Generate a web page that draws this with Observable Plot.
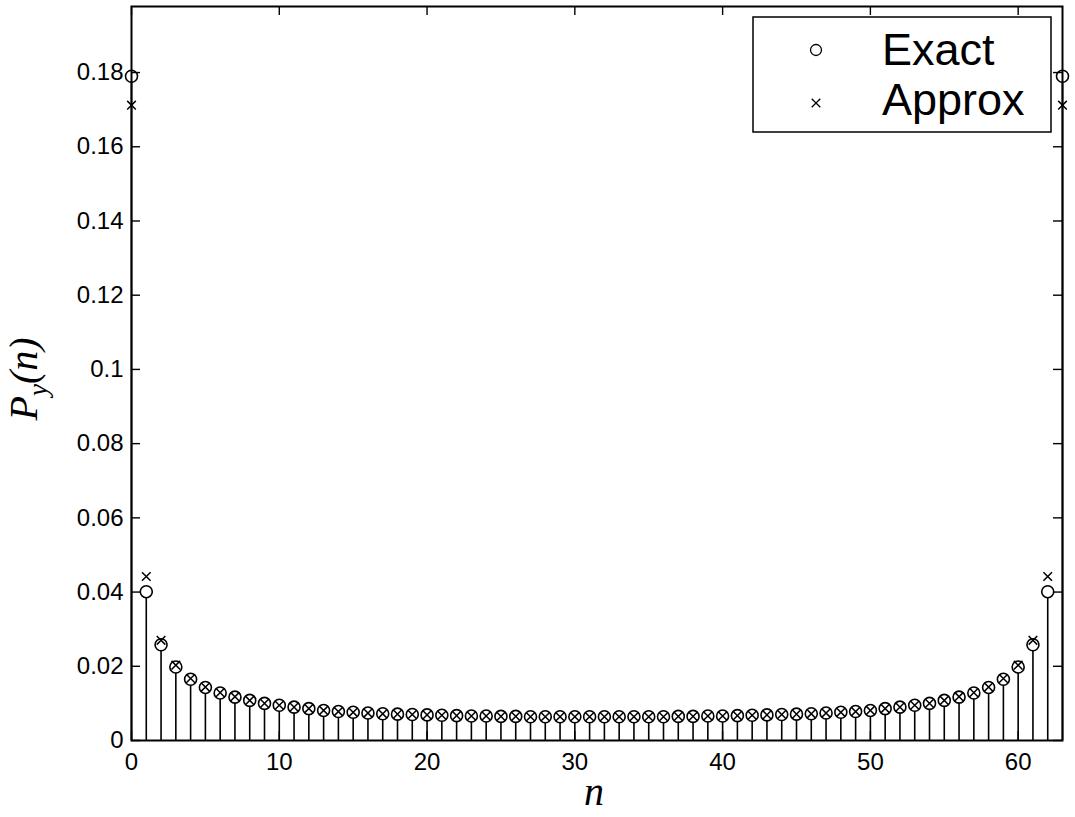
<!DOCTYPE html>
<html>
<head>
<meta charset="utf-8">
<script src="https://cdn.jsdelivr.net/npm/d3@7"></script>
<script src="https://cdn.jsdelivr.net/npm/@observablehq/plot@0.6"></script>
<style>
  html, body { margin: 0; padding: 0; background: #fff; }
  #chart { position: relative; width: 1075px; height: 817px; }
</style>
</head>
<body>
<div id="chart"></div>
<script>
// ---- data ----
const nValues = d3.range(64);
const exactValues = [
  0.179, 0.0401, 0.0258, 0.0198, 0.0165, 0.0143, 0.0128, 0.0117, 0.0108, 0.0100,
  0.0095, 0.0090, 0.0086, 0.0081, 0.0078, 0.0076, 0.0074, 0.0072, 0.0071, 0.0070,
  0.0069, 0.0068, 0.0067, 0.0066, 0.0066, 0.0065, 0.0065, 0.0064, 0.0064, 0.0064,
  0.0064, 0.0064, 0.0064, 0.0064, 0.0064, 0.0064, 0.0064, 0.0065, 0.0065, 0.0066,
  0.0066, 0.0067, 0.0068, 0.0069, 0.0070, 0.0071, 0.0072, 0.0074, 0.0076, 0.0078,
  0.0081, 0.0086, 0.0090, 0.0095, 0.0100, 0.0108, 0.0117, 0.0128, 0.0143, 0.0165,
  0.0198, 0.0258, 0.0401, 0.179
];
const approxValues = [
  0.1712, 0.0442, 0.0270, 0.0203, 0.0167, 0.0144, 0.0129, 0.0118, 0.0108, 0.0100,
  0.0095, 0.0090, 0.0086, 0.0081, 0.0078, 0.0076, 0.0074, 0.0072, 0.0071, 0.0070,
  0.0069, 0.0068, 0.0067, 0.0066, 0.0066, 0.0065, 0.0065, 0.0064, 0.0064, 0.0064,
  0.0064, 0.0064, 0.0064, 0.0064, 0.0064, 0.0064, 0.0064, 0.0065, 0.0065, 0.0066,
  0.0066, 0.0067, 0.0068, 0.0069, 0.0070, 0.0071, 0.0072, 0.0074, 0.0076, 0.0078,
  0.0081, 0.0086, 0.0090, 0.0095, 0.0100, 0.0108, 0.0118, 0.0129, 0.0144, 0.0167,
  0.0203, 0.0270, 0.0442, 0.1712
];
const xTicks = [0, 10, 20, 30, 40, 50, 60];
const xTickLabels = ["0", "10", "20", "30", "40", "50", "60"];
const yTicks = [0, 0.02, 0.04, 0.06, 0.08, 0.1, 0.12, 0.14, 0.16, 0.18];
const yTickLabels = ["0", "0.02", "0.04", "0.06", "0.08", "0.1", "0.12", "0.14", "0.16", "0.18"];
const seriesNames = ["Exact", "Approx"];

const data = nValues.map((n, i) => ({ n, exact: exactValues[i], approx: approxValues[i] }));

// ---- layout ----
const W = 1075, H = 817;
const mL = 131, mR = 13, mT = 6, mB = 77;
const innerW = W - mL - mR, innerH = H - mT - mB;
const tickLen = 9;

const chart = Plot.plot({
  width: W, height: H,
  marginLeft: mL, marginRight: mR, marginTop: mT, marginBottom: mB,
  style: { fontFamily: "'Liberation Sans', Arial, Helvetica, sans-serif", fontSize: "24px", color: "black", background: "white" },
  x: { domain: [0, 63] },
  y: { domain: [0, 0.1978] },
  marks: [
    Plot.ruleX(data, { x: "n", y1: 0, y2: "exact", stroke: "black", strokeWidth: 1.6 }),
    Plot.dot(data, { x: "n", y: "exact", r: 6, stroke: "black", fill: "white", strokeWidth: 1.6 }),
    Plot.dot(data, { x: "n", y: "approx", symbol: "times", r: 4, stroke: "black", strokeWidth: 1.5 }),
    // tick labels
    Plot.axisX({ anchor: "bottom", ticks: xTicks, tickSize: 0, tickPadding: 12, tickFormat: d => xTickLabels[xTicks.indexOf(d)], label: null }),
    Plot.axisY({ anchor: "left", ticks: yTicks, tickSize: 0, tickPadding: 8, tickFormat: d => yTickLabels[yTicks.indexOf(d)], label: null }),
    // inward ticks on all four sides
    Plot.tickX(xTicks, { x: d => d, insetTop: innerH - tickLen, stroke: "black", strokeWidth: 1.4 }),
    Plot.tickX(xTicks, { x: d => d, insetBottom: innerH - tickLen, stroke: "black", strokeWidth: 1.4 }),
    Plot.tickY(yTicks, { y: d => d, insetRight: innerW - tickLen, stroke: "black", strokeWidth: 1.4 }),
    Plot.tickY(yTicks, { y: d => d, insetLeft: innerW - tickLen, stroke: "black", strokeWidth: 1.4 }),
    Plot.frame({ stroke: "black", strokeWidth: 2 })
  ]
});

document.getElementById("chart").appendChild(chart);
const svg = d3.select(chart);

// y-axis label P_y(n)
const yl = svg.append("text")
  .attr("transform", "translate(37,379) rotate(-90)")
  .attr("text-anchor", "middle")
  .style("font-family", "'Liberation Serif', 'Times New Roman', serif")
  .style("font-style", "italic")
  .style("font-size", "40px")
  .attr("fill", "black");
yl.append("tspan").text("P");
yl.append("tspan").attr("dy", 10).style("font-size", "27px").text("y");
yl.append("tspan").attr("dy", -10).text("(n)");

// x-axis label n
svg.append("text")
  .attr("x", 594).attr("y", 805)
  .attr("text-anchor", "middle")
  .style("font-family", "'Liberation Serif', 'Times New Roman', serif")
  .style("font-style", "italic")
  .style("font-size", "40px")
  .attr("fill", "black")
  .text("n");

// legend
const lg = svg.append("g");
lg.append("rect").attr("x", 753).attr("y", 17).attr("width", 298).attr("height", 115)
  .attr("fill", "white").attr("stroke", "black").attr("stroke-width", 1.5);
lg.append("circle").attr("cx", 816).attr("cy", 50).attr("r", 5.5)
  .attr("fill", "none").attr("stroke", "black").attr("stroke-width", 1.3);
lg.append("path").attr("d", d3.symbol(d3.symbolTimes, Math.PI * 16)())
  .attr("transform", "translate(816,103)")
  .attr("fill", "none").attr("stroke", "black").attr("stroke-width", 1.3);
const legendY = [65, 115];
seriesNames.forEach((name, i) => {
  lg.append("text").attr("x", 882).attr("y", legendY[i])
    .attr("text-anchor", "start")
    .style("font-family", "'Liberation Sans', Arial, Helvetica, sans-serif")
    .style("font-size", "45px").attr("fill", "black").text(name);
});
</script>
</body>
</html>
